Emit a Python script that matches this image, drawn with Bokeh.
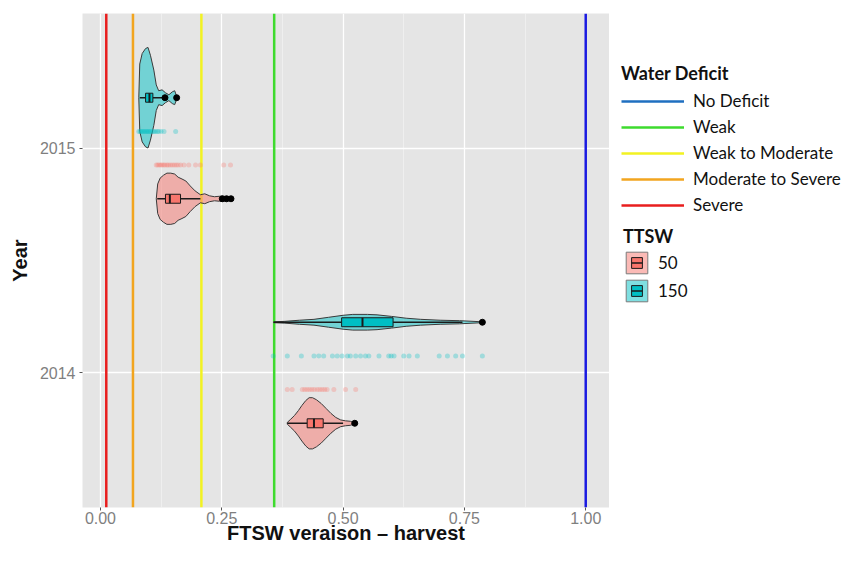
from bokeh.plotting import figure
from bokeh.layouts import row
from bokeh.models import Legend, LegendItem, FixedTicker, Range1d
from bokeh.embed import file_html
from bokeh.resources import INLINE

# ---------------- data ----------------
YEARS = [2014, 2015]
GROUPS = ["50", "150"]
GROUP_COLORS = {"50": "#F8766D", "150": "#00BFC4"}
VIOLIN_OFFSET = {"50": -0.225, "150": 0.225}
RUG_OFFSET = {"50": -0.075, "150": 0.075}

X_TICKS = [0.0, 0.25, 0.5, 0.75, 1.0]
X_TICK_LABELS = ["0.00", "0.25", "0.50", "0.75", "1.00"]
X_MINOR = [0.125, 0.375, 0.625, 0.875]

THRESH_LABELS = ["No Deficit", "Weak", "Weak to Moderate", "Moderate to Severe", "Severe"]
THRESH_VALUES = [1.0, 0.358, 0.208, 0.067, 0.012]
THRESH_COLORS = ["#1A1AE0", "#3EDB2E", "#F2F222", "#F2A51F", "#E81E1E"]
LEGEND_LINE_COLORS = ["#1F6FC0", "#3EDB2E", "#F2F222", "#F2A51F", "#E81E1E"]

# violin profiles: FTSW value and half width (in year units)
v2015_150_x = [0.079, 0.081, 0.086, 0.093, 0.098, 0.103, 0.110, 0.115, 0.120, 0.127, 0.134, 0.141, 0.148, 0.153, 0.158]
v2015_150_w = [0.0, 0.150, 0.197, 0.219, 0.224, 0.189, 0.123, 0.057, 0.031, 0.035, 0.022, 0.013, 0.026, 0.031, 0.0]
v2015_50_x = [0.115, 0.118, 0.123, 0.130, 0.137, 0.145, 0.153, 0.160, 0.168, 0.176, 0.185, 0.195, 0.206, 0.215, 0.225, 0.235, 0.245, 0.255, 0.263, 0.271]
v2015_50_w = [0.0, 0.066, 0.092, 0.105, 0.114, 0.114, 0.110, 0.096, 0.088, 0.079, 0.057, 0.035, 0.018, 0.022, 0.013, 0.009, 0.011, 0.011, 0.009, 0.0]
v2014_150_x = [0.357, 0.38, 0.41, 0.44, 0.47, 0.50, 0.52, 0.55, 0.57, 0.60, 0.63, 0.66, 0.70, 0.74, 0.787]
v2014_150_w = [0.002, 0.004, 0.009, 0.013, 0.022, 0.031, 0.035, 0.035, 0.033, 0.026, 0.018, 0.013, 0.009, 0.007, 0.002]
v2014_50_x = [0.385, 0.392, 0.400, 0.408, 0.415, 0.423, 0.430, 0.437, 0.445, 0.455, 0.465, 0.475, 0.485, 0.495, 0.505, 0.515, 0.524]
v2014_50_w = [0.004, 0.018, 0.035, 0.057, 0.079, 0.101, 0.114, 0.114, 0.105, 0.088, 0.066, 0.044, 0.026, 0.015, 0.011, 0.009, 0.002]

# box statistics: lower whisker, q1, median, q3, upper whisker, outliers
box_2015_50 = [0.117, 0.134, 0.143, 0.165, 0.206]
out_2015_50 = [0.251, 0.260, 0.269]
box_2015_150 = [0.081, 0.093, 0.101, 0.108, 0.127]
out_2015_150 = [0.133, 0.157]
box_2014_50 = [0.385, 0.426, 0.440, 0.459, 0.500]
out_2014_50 = [0.524]
box_2014_150 = [0.357, 0.497, 0.540, 0.603, 0.746]
out_2014_150 = [0.787]

# individual observations (rug rows)
rug_2015_50 = [0.115, 0.118, 0.121, 0.124, 0.127, 0.130, 0.133, 0.137, 0.140, 0.144, 0.148, 0.152, 0.156, 0.160, 0.165, 0.172, 0.182, 0.196, 0.206, 0.254, 0.268]
rug_2015_150 = [0.079, 0.082, 0.085, 0.088, 0.091, 0.094, 0.097, 0.100, 0.103, 0.107, 0.110, 0.113, 0.117, 0.120, 0.125, 0.131, 0.155]
rug_2014_50 = [0.385, 0.395, 0.416, 0.421, 0.426, 0.431, 0.436, 0.441, 0.447, 0.452, 0.457, 0.462, 0.467, 0.481, 0.505, 0.526]
rug_2014_150 = [0.356, 0.385, 0.414, 0.440, 0.450, 0.460, 0.478, 0.488, 0.498, 0.509, 0.515, 0.526, 0.536, 0.546, 0.553,
                0.574, 0.594, 0.599, 0.605, 0.625, 0.636, 0.653, 0.698, 0.715, 0.732, 0.746, 0.787]

violins = {
    (2015, "150"): (v2015_150_x, v2015_150_w, box_2015_150, out_2015_150, rug_2015_150),
    (2015, "50"): (v2015_50_x, v2015_50_w, box_2015_50, out_2015_50, rug_2015_50),
    (2014, "150"): (v2014_150_x, v2014_150_w, box_2014_150, out_2014_150, rug_2014_150),
    (2014, "50"): (v2014_50_x, v2014_50_w, box_2014_50, out_2014_50, rug_2014_50),
}

X_LO, X_HI = -0.037, 1.049
Y_LO, Y_HI = 2013.4, 2015.6
BOX_HALF = 0.02

TOTAL_H = 546
MAIN_W = 609
LEG_W = 848 - MAIN_W

# ---------------- main figure ----------------
p = figure(width=MAIN_W, height=TOTAL_H, output_backend="svg", toolbar_location=None,
           x_range=Range1d(X_LO, X_HI), y_range=Range1d(Y_LO, Y_HI),
           min_border_left=82, min_border_right=0, min_border_top=13, min_border_bottom=30,
           background_fill_color="#E5E5E5", border_fill_color="white",
           outline_line_color=None)

tick_font = "Liberation Sans"
for ax in (p.xaxis[0], p.yaxis[0]):
    ax.axis_line_color = None
    ax.major_tick_line_color = "#555555"
    ax.major_tick_out = 3
    ax.major_tick_in = 0
    ax.minor_tick_line_color = None
    ax.major_label_text_color = "#7F7F7F"
    ax.major_label_text_font = tick_font
    ax.major_label_text_font_size = "16px"
    ax.axis_label_text_font = tick_font
    ax.axis_label_text_font_style = "bold"
    ax.axis_label_text_font_size = "20px"
    ax.axis_label_text_color = "#111111"

p.xaxis.ticker = FixedTicker(ticks=X_TICKS, minor_ticks=X_MINOR)
p.xaxis.major_label_overrides = {t: l for t, l in zip(X_TICKS, X_TICK_LABELS)}
p.xaxis.axis_label = "FTSW veraison \u2013 harvest"
p.xaxis.major_label_standoff = 0
p.xaxis.axis_label_standoff = -5

p.yaxis.ticker = FixedTicker(ticks=YEARS)
p.yaxis.major_label_overrides = {y: str(y) for y in YEARS}
p.yaxis.axis_label = "Year"
p.yaxis.major_label_standoff = 4
p.yaxis.axis_label_standoff = 6

p.xgrid.grid_line_color = "white"
p.xgrid.grid_line_width = 1.3
p.xgrid.minor_grid_line_color = "white"
p.xgrid.minor_grid_line_alpha = 0.55
p.xgrid.minor_grid_line_width = 0.7
p.ygrid.grid_line_color = "white"
p.ygrid.grid_line_width = 1.3

# ---------------- threshold lines ----------------
for val, col in zip(THRESH_VALUES, THRESH_COLORS):
    p.segment(x0=[val], y0=[Y_LO], x1=[val], y1=[Y_HI], line_color=col, line_width=2.5)

# ---------------- violins, boxes, rugs ----------------
violin_shapes = {}
for g in GROUPS:
    xs, ys = [], []
    for yr in YEARS:
        vx, vw, box, outs, rug = violins[(yr, g)]
        c = yr + VIOLIN_OFFSET[g]
        xs.append(list(vx) + list(vx)[::-1])
        ys.append([c + w for w in vw] + [c - w for w in vw][::-1])
    violin_shapes[g] = (xs, ys)
    p.patches(xs=xs, ys=ys, fill_color=GROUP_COLORS[g], fill_alpha=0.5,
              line_color="#3A3A3A", line_width=1)

for (yr, g), (vx, vw, box, outs, rug) in violins.items():
    c = yr + VIOLIN_OFFSET[g]
    lw, q1, med, q3, uw = box
    p.scatter(x=rug, y=[yr + RUG_OFFSET[g]] * len(rug), size=5, fill_color=GROUP_COLORS[g],
              fill_alpha=0.3, line_color=None)
    p.segment(x0=[lw, q3], y0=[c, c], x1=[q1, uw], y1=[c, c], line_color="#1A1A1A", line_width=1.6)
    p.quad(left=[q1], right=[q3], bottom=[c - BOX_HALF], top=[c + BOX_HALF],
           fill_color=GROUP_COLORS[g], line_color="#1A1A1A", line_width=1)
    p.segment(x0=[med], y0=[c - BOX_HALF], x1=[med], y1=[c + BOX_HALF], line_color="#1A1A1A", line_width=2)
    p.scatter(x=outs, y=[c] * len(outs), size=6, fill_color="black", line_color="black")

# ---------------- legend panel (same data, outside its visible range) ----------------
q = figure(width=LEG_W, height=TOTAL_H, output_backend="svg", toolbar_location=None,
           x_range=Range1d(0, 1), y_range=Range1d(0, 1),
           x_axis_location=None, y_axis_location=None,
           min_border_left=0, min_border_right=0, min_border_top=0, min_border_bottom=0,
           background_fill_color="white", border_fill_color="white", outline_line_color=None)
q.xgrid.visible = False
q.ygrid.visible = False

line_items = []
for lab, val, col in zip(THRESH_LABELS, THRESH_VALUES, LEGEND_LINE_COLORS):
    r = q.segment(x0=[val], y0=[Y_LO], x1=[val], y1=[Y_HI], line_color=col, line_width=2.5)
    line_items.append(LegendItem(label=lab, renderers=[r]))

group_items = []
for g in GROUPS:
    xs, ys = violin_shapes[g]
    box = violins[(2015, g)][2]
    c = 2015 + VIOLIN_OFFSET[g]
    r_bg = q.patches(xs=xs, ys=ys, fill_color=GROUP_COLORS[g], fill_alpha=0.5,
                     line_color="#7A7A7A", line_width=1)
    r_box = q.scatter(x=[box[2]], y=[c], marker="square", fill_color=GROUP_COLORS[g],
                      line_color="#1A1A1A", line_width=1)
    r_med = q.scatter(x=[box[2]], y=[c], marker="dash", line_color="#1A1A1A", line_width=1.5)
    group_items.append(LegendItem(label=g, renderers=[r_bg, r_box, r_med]))

leg1 = Legend(items=line_items, title="Water Deficit", location=(12, 292), orientation="vertical")
leg2 = Legend(items=group_items, title="TTSW", location=(14, 203), orientation="vertical")
for leg in (leg1, leg2):
    leg.title_text_font = "Lato"
    leg.title_text_font_style = "bold"
    leg.title_text_font_size = "18px"
    leg.title_text_color = "#111111"
    leg.label_text_font = "Lato"
    leg.label_text_font_size = "17px"
    leg.label_text_color = "#111111"
    leg.border_line_color = None
    leg.background_fill_alpha = 0
    leg.padding = 0
    leg.margin = 0
leg1.title_standoff = 6
leg1.glyph_width = 63
leg1.glyph_height = 20
leg1.spacing = 5
leg1.label_standoff = 9
leg1.label_height = 20
leg2.title_standoff = 2
leg2.glyph_width = 27
leg2.glyph_height = 27
leg2.spacing = 1
leg2.label_standoff = 8
leg2.label_height = 20
q.add_layout(leg1)
q.add_layout(leg2)

layout = row(p, q)
open("out.html", "w").write(file_html(layout, INLINE))
